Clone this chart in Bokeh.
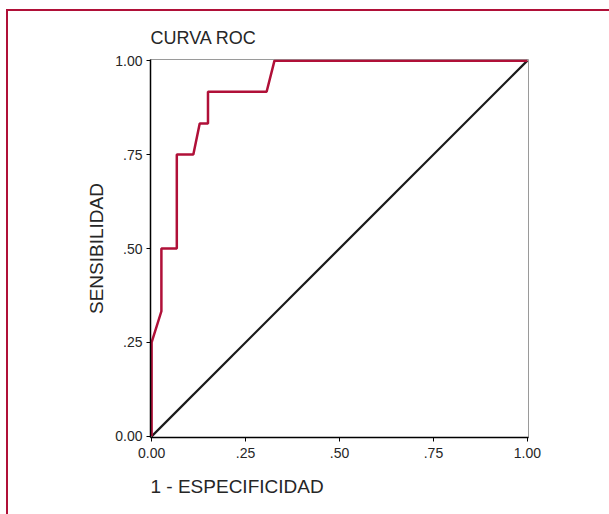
from bokeh.plotting import figure
from bokeh.models import Range1d, FixedTicker, Title
from bokeh.embed import file_html
from bokeh.resources import INLINE

# ROC curve data (1 - specificity, sensitivity)
fpr = [0.0, 0.0, 0.026, 0.026, 0.067, 0.067, 0.111, 0.128, 0.150, 0.150, 0.306, 0.327, 1.0]
tpr = [0.0, 0.25, 0.333, 0.50, 0.50, 0.75, 0.75, 0.833, 0.833, 0.917, 0.917, 1.0, 1.0]
ref_x = [0.0, 1.0]
ref_y = [0.0, 1.0]
tick_vals = [0.0, 0.25, 0.5, 0.75, 1.0]
tick_labels = ["0.00", ".25", ".50", ".75", "1.00"]

RED = "#b01038"
TXT = "#262626"
FONT = "Liberation Sans"

p = figure(frame_width=378, frame_height=378,
           min_border_left=142, min_border_right=81,
           min_border_top=48, min_border_bottom=77,
           x_range=Range1d(-0.003, 1.003), y_range=Range1d(-0.003, 1.003),
           output_backend="svg", toolbar_location=None, tools="")
p.title = None

p.styles = {"left": "6px", "top": "9px",
            "border-left": f"2px solid {RED}", "border-top": f"2px solid {RED}"}

# thin spacer nearest the frame, then the real title above it
p.add_layout(Title(text=" ", text_font=FONT, text_font_size="4px", standoff=0), "above")
p.add_layout(Title(text="CURVA ROC", align="left", text_font=FONT,
                   text_font_size="18px", text_font_style="normal",
                   text_color=TXT), "above")

p.xgrid.visible = False
p.ygrid.visible = False
p.outline_line_color = "#9a9a9a"
p.outline_line_width = 1
p.background_fill_color = "white"
p.border_fill_color = "white"

for ax in (p.xaxis[0], p.yaxis[0]):
    ax.ticker = FixedTicker(ticks=tick_vals)
    ax.major_label_overrides = {v: l for v, l in zip(tick_vals, tick_labels)}
    ax.minor_tick_line_color = None
    ax.major_tick_in = 0
    ax.major_tick_out = 4
    ax.major_tick_line_color = "black"
    ax.axis_line_color = "black"
    ax.axis_line_width = 1.5
    ax.major_label_text_font = FONT
    ax.major_label_text_font_size = "14px"
    ax.major_label_text_color = TXT

p.yaxis[0].major_label_standoff = 4
p.xaxis[0].major_label_standoff = 6

p.yaxis[0].axis_label = "SENSIBILIDAD"
p.yaxis[0].axis_label_text_font = FONT
p.yaxis[0].axis_label_text_font_size = "19px"
p.yaxis[0].axis_label_text_font_style = "normal"
p.yaxis[0].axis_label_text_color = TXT
p.yaxis[0].axis_label_standoff = 5

p.line(ref_x, ref_y, line_color="#1a1a1a", line_width=2.2)
p.line(fpr, tpr, line_color=RED, line_width=2.5)

# thin spacer below the axis, then the x-axis caption
p.add_layout(Title(text=" ", text_font=FONT, text_font_size="5px", standoff=0), "below")
xlab = Title(text="1 - ESPECIFICIDAD", align="left", text_font=FONT,
             text_font_size="19px", text_font_style="normal",
             text_color=TXT)
p.add_layout(xlab, "below")

open("out.html", "w").write(file_html(p, INLINE))
